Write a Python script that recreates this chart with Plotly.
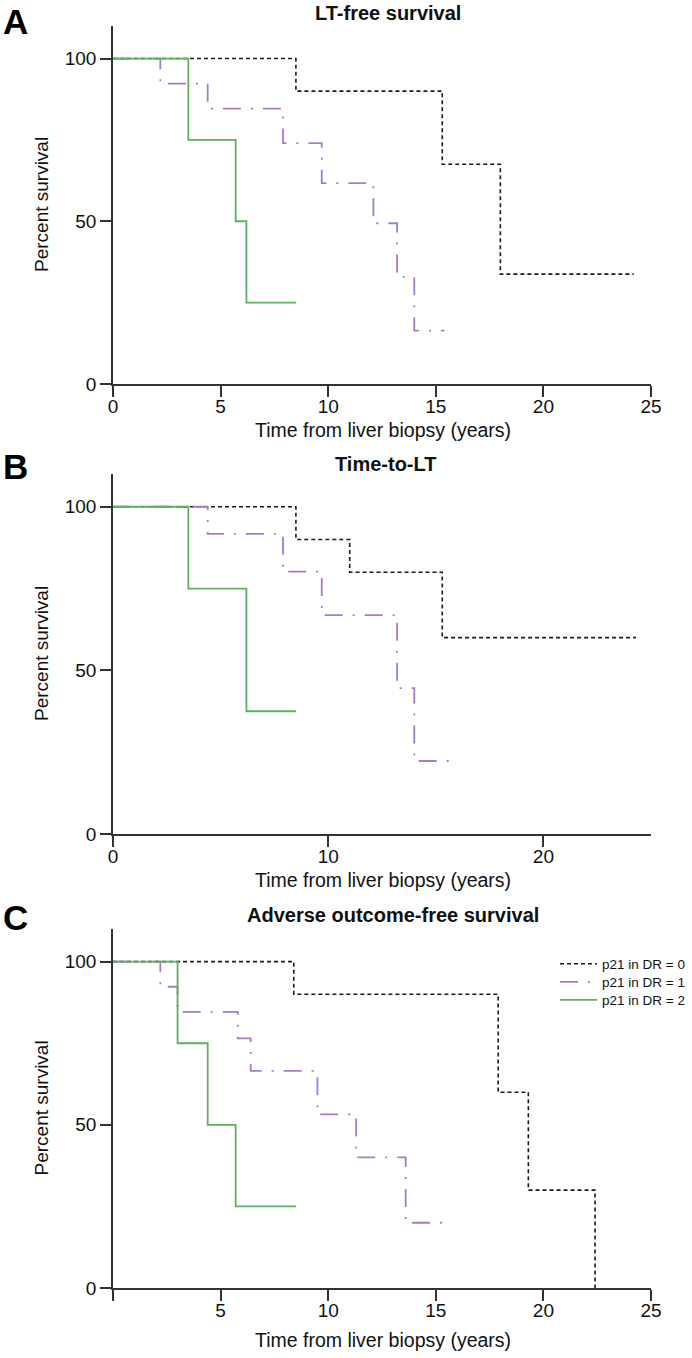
import plotly.graph_objects as go

# ---------------- data ----------------
series_names = ["p21 in DR = 0", "p21 in DR = 1", "p21 in DR = 2"]

# Panel A: LT-free survival
a_t0 = [0, 8.5, 15.3, 18.0, 24.2]
a_s0 = [100, 90, 67.5, 33.75, 33.75]
a_t1 = [0, 2.2, 4.4, 7.9, 9.7, 12.1, 13.2, 14.0, 15.4]
a_s1 = [100, 92.3, 84.6, 74.0, 61.7, 49.4, 32.9, 16.4, 16.4]
a_t2 = [0, 3.5, 5.7, 6.2, 8.5]
a_s2 = [100, 75, 50, 25, 25]

# Panel B: Time-to-LT
b_t0 = [0, 8.5, 11.0, 15.3, 24.3]
b_s0 = [100, 90, 80, 60, 60]
b_t1 = [0, 4.4, 7.9, 9.7, 13.2, 14.0, 15.8]
b_s1 = [100, 91.7, 80.2, 66.9, 44.6, 22.3, 22.3]
b_t2 = [0, 3.5, 6.2, 8.5]
b_s2 = [100, 75, 37.5, 37.5]

# Panel C: Adverse outcome-free survival
c_t0 = [0, 8.4, 17.9, 19.3, 22.4]
c_s0 = [100, 90, 60, 30, 0]
c_t1 = [0, 2.2, 3.0, 5.8, 6.4, 9.5, 11.3, 13.6, 15.7]
c_s1 = [100, 92.3, 84.6, 76.5, 66.5, 53.2, 40.0, 20.0, 20.0]
c_t2 = [0, 3.0, 4.4, 5.7, 8.5]
c_s2 = [100, 75, 50, 25, 25]

panel_titles = ["LT-free survival", "Time-to-LT", "Adverse outcome-free survival"]
panel_letters = ["A", "B", "C"]
x_title = "Time from liver biopsy (years)"
y_title = "Percent survival"
y_ticks = [0, 50, 100]
a_xticks = [0, 5, 10, 15, 20, 25]
b_xticks = [0, 10, 20]
c_xticks = [0, 5, 10, 15, 20, 25]
c_xticktext = ["", "5", "10", "15", "20", "25"]

# ---------------- styling ----------------
W, H = 692, 1358
FONT = "Liberation Sans, Arial, sans-serif"
styles = [
    dict(color="#1a1a1a", width=1.6, dash="4px,3px"),
    dict(color="#a57cc6", width=1.8, dash="18px,10px,2px,10px"),
    dict(color="#5faf5f", width=1.8, dash="solid"),
]

x_dom = [113 / W, 651 / W]
# pixel tops/bottoms of each plot area
panels_px = [(26, 384), (474, 834), (929, 1288)]
y_doms = [[1 - b / H, 1 - t / H] for (t, b) in panels_px]

fig = go.Figure()

data = [
    [(a_t0, a_s0), (a_t1, a_s1), (a_t2, a_s2)],
    [(b_t0, b_s0), (b_t1, b_s1), (b_t2, b_s2)],
    [(c_t0, c_s0), (c_t1, c_s1), (c_t2, c_s2)],
]
legend_ids = ["legend", "legend2", "legend3"]

for p in range(3):
    xa = "x" if p == 0 else f"x{p+1}"
    ya = "y" if p == 0 else f"y{p+1}"
    for k in range(3):
        t, s = data[p][k]
        fig.add_trace(go.Scatter(
            x=t, y=s, mode="lines", line_shape="hv",
            line=styles[k], name=series_names[k],
            showlegend=(p == 2), xaxis=xa, yaxis=ya,
            legend=legend_ids[k],
        ))

axis_common = dict(
    showline=True, linecolor="#333333", showgrid=False, zeroline=False,
    automargin=False,
    ticks="outside", ticklen=11, tickwidth=1.5, tickcolor="#333333",
    tickfont=dict(family=FONT, size=19, color="#111111"),
)
xticks = [(a_xticks, [str(v) for v in a_xticks]), (b_xticks, [str(v) for v in b_xticks]),
          (c_xticks, c_xticktext)]

for p in range(3):
    sx = "" if p == 0 else str(p + 1)
    fig.update_layout(**{
        f"xaxis{sx}": dict(axis_common, domain=x_dom, range=[0, 25], linewidth=2,
                           anchor=f"y{sx}", tickvals=xticks[p][0], ticktext=xticks[p][1],
                           ticklabelstandoff=-7),
        f"yaxis{sx}": dict(axis_common, domain=y_doms[p], range=[0, 110], linewidth=1.5,
                           anchor=f"x{sx}", tickvals=y_ticks),
    })

ann = []
title_y = [13, 464, 915]
title_x = [388, 385, 393]
xt_y = [430, 880, 1340]
letter_top = [0, 445, 896]
for p in range(3):
    t, b = panels_px[p]
    ann.append(dict(text=f"<b>{panel_titles[p]}</b>", x=title_x[p] / W, y=1 - title_y[p] / H,
                    xref="paper", yref="paper", showarrow=False, xanchor="center", yanchor="middle",
                    font=dict(family=FONT, size=20, color="#111111")))
    ann.append(dict(text=f"<b>{panel_letters[p]}</b>", x=1 / W, y=1 - letter_top[p] / H,
                    xref="paper", yref="paper", showarrow=False, xanchor="left", yanchor="top",
                    font=dict(family=FONT, size=35, color="#000000")))
    ann.append(dict(text=x_title, x=383 / W, y=1 - xt_y[p] / H,
                    xref="paper", yref="paper", showarrow=False, xanchor="center", yanchor="middle",
                    font=dict(family=FONT, size=19.5, color="#111111")))
    ann.append(dict(text=y_title, x=41 / W, y=1 - ((t + b) / 2) / H, textangle=-90,
                    xref="paper", yref="paper", showarrow=False, xanchor="center", yanchor="middle",
                    font=dict(family=FONT, size=19, color="#111111")))

legend_rows = [964, 982, 1000]
legend_common = dict(xanchor="left", yanchor="middle",
                     font=dict(family=FONT, size=13.5, color="#111111"),
                     bgcolor="rgba(0,0,0,0)", borderwidth=0, itemwidth=37)
legend_layout = {}
for k, lid in enumerate(legend_ids):
    legend_layout[lid] = dict(legend_common, x=555 / W, y=1 - legend_rows[k] / H)

fig.update_layout(
    template="none",
    width=W, height=H, margin=dict(l=0, r=0, t=0, b=0, autoexpand=False),
    paper_bgcolor="white", plot_bgcolor="white",
    font=dict(family=FONT, color="#111111"),
    annotations=ann,
    showlegend=True,
    **legend_layout,
)

fig.write_html("out.html", config={"displayModeBar": False},
               post_script="document.body.style.margin='0px';")
